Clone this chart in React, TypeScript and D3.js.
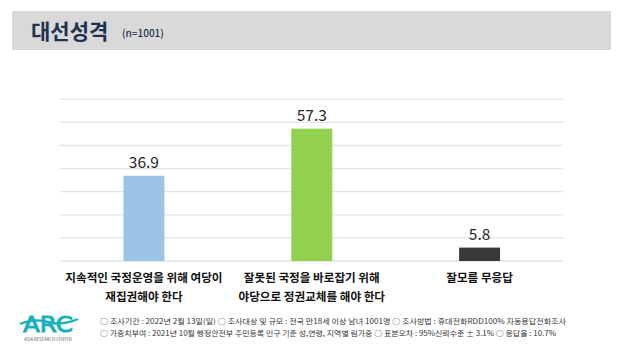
import React, { useEffect, useRef } from 'react';
import * as d3 from 'd3';

const categories = ['a', 'b', 'c'];
const labelLines = [
  ['지속적인 국정운영을 위해 여당이', '재집권해야 한다'],
  ['잘못된 국정을 바로잡기 위해', '야당으로 정권교체를 해야 한다'],
  ['잘모름 무응답', ''],
];
const values = [36.9, 57.3, 5.8];
const barColors = ['#9DC3E6', '#92D050', '#3B3838'];
const gridTicks = [0, 10, 20, 30, 40, 50, 60, 70];
const footerLines = [
  '○ 조사기간 : 2022년 2월 13일(일)    ○ 조사대상 및 규모 : 전국 만18세 이상 남녀 1001명    ○ 조사방법 : 휴대전화RDD100% 자동응답전화조사',
  '○ 가중치부여 : 2021년 10월 행정안전부 주민등록 인구 기준 성,연령, 지역별 림가중    ○ 표본오차 : 95%신뢰수준 ± 3.1%    ○ 응답율 : 10.7%',
];

const FONT = '"Noto Sans CJK KR", "Noto Sans", sans-serif';

function App() {
  const svgRef = useRef<SVGSVGElement>(null);

  useEffect(() => {
    if (!svgRef.current) return;
    const width = 624;
    const height = 352;
    const svg = d3.select(svgRef.current);
    svg.selectAll('*').remove();
    svg.attr('width', width).attr('height', height).attr('viewBox', `0 0 ${width} ${height}`);

    svg.append('rect').attr('width', width).attr('height', height).attr('fill', '#fff');

    // title band
    svg.append('rect')
      .attr('x', 12).attr('y', 11).attr('width', 599).attr('height', 39)
      .attr('fill', '#D9D9D9');
    svg.append('text')
      .attr('x', 31).attr('y', 39)
      .attr('font-family', FONT).attr('font-size', 21).attr('font-weight', 700)
      .attr('fill', '#1F3350')
      .text('대선성격');
    svg.append('text')
      .attr('x', 122).attr('y', 37)
      .attr('font-family', FONT).attr('font-size', 10).attr('font-weight', 500)
      .attr('fill', '#1F3350')
      .text('(n=1001)');

    const x = d3.scaleBand<string>()
      .domain(categories)
      .range([60, 563.5])
      .paddingInner(0.756)
      .paddingOuter(0.378);
    const y = d3.scaleLinear().domain([0, 70]).range([261, 99.3]);

    svg.append('g')
      .selectAll('line')
      .data(gridTicks)
      .join('line')
      .attr('x1', 60).attr('x2', 563)
      .attr('y1', d => y(d)).attr('y2', d => y(d))
      .attr('stroke', '#E4E4E4').attr('stroke-width', 1.3);

    svg.append('g')
      .selectAll('rect')
      .data(values)
      .join('rect')
      .attr('x', (_, i) => x(categories[i])!)
      .attr('y', d => y(d))
      .attr('width', x.bandwidth())
      .attr('height', d => y(0) - y(d))
      .attr('fill', (_, i) => barColors[i]);

    svg.append('g')
      .selectAll('text')
      .data(values)
      .join('text')
      .attr('x', (_, i) => x(categories[i])! + x.bandwidth() / 2)
      .attr('y', d => y(d) - 8)
      .attr('text-anchor', 'middle')
      .attr('font-family', FONT).attr('font-size', 15.5).attr('font-weight', 400)
      .attr('fill', '#262626')
      .text(d => d.toFixed(1));

    const lab = svg.append('g');
    labelLines.forEach((lines, i) => {
      lines.forEach((t, j) => {
        if (!t) return;
        lab.append('text')
          .attr('x', x(categories[i])! + x.bandwidth() / 2)
          .attr('y', 282 + j * 18.5)
          .attr('text-anchor', 'middle')
          .attr('font-family', FONT).attr('font-size', 11.6).attr('font-weight', 700)
          .attr('fill', '#111')
          .text(t);
      });
    });

    // footer
    const foot = svg.append('g');
    footerLines.forEach((t, i) => {
      foot.append('text')
        .attr('x', 100).attr('y', 324 + i * 11.5)
        .attr('font-family', FONT).attr('font-size', 7.2)
        .attr('fill', '#333')
        .attr('textLength', i === 0 ? 466 : 456)
        .attr('lengthAdjust', 'spacingAndGlyphs')
        .text(t);
    });

    // logo
    const logo = svg.append('g');
    logo.append('text')
      .attr('x', 48).attr('y', 332)
      .attr('text-anchor', 'middle')
      .attr('font-family', '"DejaVu Sans", sans-serif').attr('font-size', 21)
      .attr('fill', '#1AAFBD').attr('stroke', '#1AAFBD').attr('stroke-width', 0.9)
      .attr('textLength', 50).attr('lengthAdjust', 'spacingAndGlyphs')
      .text('ARC');
    logo.append('path')
      .attr('d', 'M20,324 Q35,318 48,322 T78,319')
      .attr('fill', 'none').attr('stroke', '#1AAFBD').attr('stroke-width', 2.4);
    logo.append('text')
      .attr('x', 48).attr('y', 341)
      .attr('text-anchor', 'middle')
      .attr('font-family', FONT).attr('font-size', 4.2)
      .attr('fill', '#555')
      .text('ASIA RESEARCH CENTER');
  }, []);

  return (
    <div style={{ position: 'fixed', left: 0, top: 0, width: 624, height: 352, overflow: 'hidden' }}>
      <svg ref={svgRef}></svg>
    </div>
  );
}

export default App;
